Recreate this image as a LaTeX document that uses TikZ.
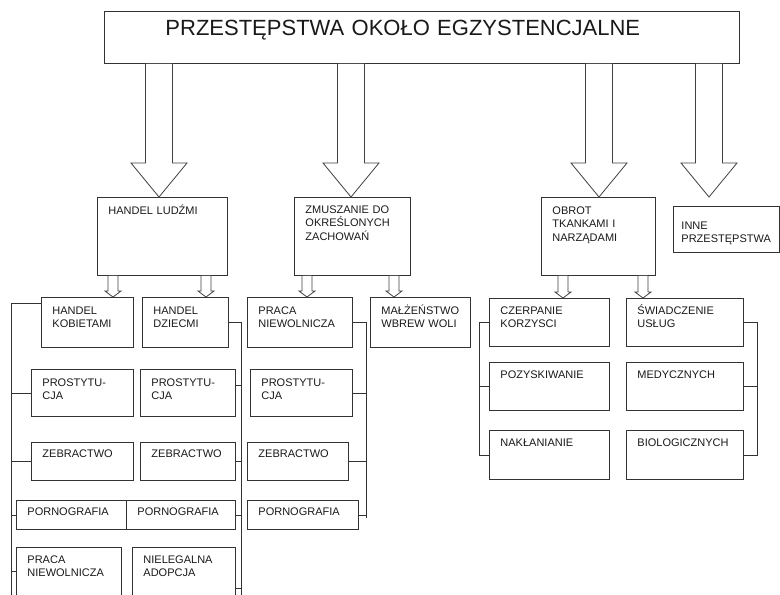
\documentclass[tikz,border=0pt]{standalone}
\usepackage{fontspec}
\setmainfont{Liberation Sans}
\usepackage{tikz}

\newcommand{\boxfont}{\fontsize{11}{13.5}\selectfont\hyphenpenalty=10000 }
% hollow block arrow: from node, tip, x, half shaft, half head, head length
\newcommand{\hollowarrow}[6]{%
  \draw[arrowline] ([xshift=-#4]#3,0 |- #1.south)
    -- ([xshift=-#4,yshift=#6]#3,0 |- #2)
    -- ([xshift=-#5,yshift=#6]#3,0 |- #2)
    -- (#3,0 |- #2)
    -- ([xshift=#5,yshift=#6]#3,0 |- #2)
    -- ([xshift=#4,yshift=#6]#3,0 |- #2)
    -- ([xshift=#4]#3,0 |- #1.south);}

\begin{document}
\begin{tikzpicture}[
        x=1pt, y=-1pt, line width=0.9pt,
        rail/.style={draw=black!80},
        box/.style={draw=black!80, anchor=north west, align=left,
          inner xsep=11pt, inner ysep=0pt, text height=17pt, font=\boxfont, text=black!90},
        arrowline/.style={draw=black!75, line width=0.8pt, fill=white}
      ]
      \useasboundingbox (0,0) rectangle (780,595);
      \clip (0,0) rectangle (780,595);

      % Root node
      \node[box, inner xsep=61pt, text width=513pt, text height=24pt, text depth=28pt,
        font=\fontsize{22}{26}\selectfont] (root) at (104,11)
        {PRZESTĘPSTWA OKOŁO EGZYSTENCJALNE};

      % Level 1
      \node[box, text width=108pt, text depth=61pt] (hl) at (97,197) {HANDEL LUDŹMI};
      \node[box, text width=94pt, text height=16pt, text depth=62pt] (zm) at (294,197)
        {ZMUSZANIE DO\\OKREŚLONYCH\\ZACHOWAŃ};
      \node[box, text width=92pt, text depth=61pt] (ob) at (541,197)
        {OBROT\\TKANKAMI I\\NARZĄDAMI};
      \node[box, inner xsep=8pt, text width=90pt, text height=23pt, text depth=23pt] (inne) at (673,206)
        {INNE\\PRZESTĘPSTWA};
      \coordinate (inneTip) at ([yshift=9pt]inne.north);

      \hollowarrow{root}{hl.north}{159}{13.5pt}{28pt}{34pt}
      \hollowarrow{root}{zm.north}{351}{13.5pt}{28pt}{34pt}
      \hollowarrow{root}{ob.north}{599}{13.5pt}{28pt}{34pt}
      \hollowarrow{root}{inneTip}{709}{13.5pt}{28pt}{34pt}

      % Level 2
      \node[box, text width=70pt, text depth=33pt] (kob) at (41,297) {HANDEL\\KOBIETAMI};
      \node[box, text width=64pt, text depth=33pt] (dzi) at (142,297) {HANDEL\\DZIECMI};
      \node[box, text width=83pt, text depth=33pt] (pn) at (247,297) {PRACA\\NIEWOLNICZA};
      \node[box, text width=78pt, text depth=33pt] (mal) at (370,297) {MAŁŻEŃSTWO\\WBREW WOLI};
      \node[box, text width=98pt, text height=16pt, text depth=32pt] (cz) at (489,298) {CZERPANIE\\KORZYSCI};
      \node[box, text width=95pt, text height=16pt, text depth=32pt] (sw) at (626,298) {ŚWIADCZENIE\\USŁUG};

      \hollowarrow{hl}{kob.north}{113}{5pt}{8pt}{6pt}
      \hollowarrow{hl}{dzi.north}{206}{5pt}{8pt}{6pt}
      \hollowarrow{zm}{pn.north}{307}{5pt}{8pt}{6pt}
      \hollowarrow{zm}{mal.north}{394}{5pt}{8pt}{6pt}
      \hollowarrow{ob}{cz.north}{563}{5pt}{8pt}{6pt}
      \hollowarrow{ob}{sw.north}{643}{5pt}{8pt}{6pt}

      % Level 3 - handel ludzmi
      \node[box, text width=80pt, text depth=30pt] (p1) at (31,369) {PROSTYTU-\\CJA};
      \node[box, text width=73pt, text depth=30pt] (p2) at (140,369) {PROSTYTU-\\CJA};
      \node[box, text width=80pt, text height=15pt, text depth=23pt] (z1) at (31,442) {ZEBRACTWO};
      \node[box, text width=73pt, text height=15pt, text depth=23pt] (z2) at (140,442) {ZEBRACTWO};
      \node[box, text width=88pt, text height=15pt, text depth=14pt] (po1) at (16,500) {PORNOGRAFIA};
      \node[box, text width=87pt, text height=15pt, text depth=14pt] (po2) at (126,500) {PORNOGRAFIA};
      \node[box, text width=83pt, text height=16pt, text depth=44pt] (pr) at (16,547) {PRACA\\NIEWOLNICZA};
      \node[box, text width=81pt, text height=16pt, text depth=44pt] (ad) at (132,547) {NIELEGALNA\\ADOPCJA};

      % Level 3 - zmuszanie
      \node[box, text width=80pt, text depth=30pt] (p3) at (250,369) {PROSTYTU-\\CJA};
      \node[box, text width=79pt, text height=15pt, text depth=23pt] (z3) at (247,442) {ZEBRACTWO};
      \node[box, text width=89pt, text height=15pt, text depth=14pt] (po3) at (247,500) {PORNOGRAFIA};

      % Level 3 - obrot
      \node[box, text width=98pt, text height=16pt, text depth=32pt] (poz) at (489,362) {POZYSKIWANIE};
      \node[box, text width=98pt, text height=16pt, text depth=33pt] (nak) at (489,430) {NAKŁANIANIE};
      \node[box, text width=95pt, text height=16pt, text depth=32pt] (med) at (626,362) {MEDYCZNYCH};
      \node[box, text width=95pt, text height=16pt, text depth=33pt] (bio) at (626,430) {BIOLOGICZNYCH};

      % brackets
      \coordinate (railA) at (11,620);
      \coordinate (railB) at (241,620);
      \coordinate (railC) at (366,0);
      \coordinate (railD) at (479,0);
      \coordinate (railE) at (757,0);

      \draw[rail] ([yshift=-6pt]kob.north west) -| (railA);
      \foreach \n in {p1,z1,po1} \draw[rail] (\n.west) -- (\n.west -| railA);
      \draw[rail] ([yshift=-24pt]pr.north west) -- ([yshift=-24pt]pr.north west -| railA);

      \draw[rail] (dzi.east) -| (railB);
      \draw[rail] ([yshift=-16pt]p2.north east) -- ([yshift=-16pt]p2.north east -| railB);
      \foreach \n in {z2,po2} \draw[rail] (\n.east) -- (\n.east -| railB);
      \draw[rail] ([yshift=-41pt]ad.north east) -- ([yshift=-41pt]ad.north east -| railB);

      \draw[rail] (pn.east) -| ([yshift=-3pt]railC |- po3.east);
      \foreach \n in {p3,z3,po3} \draw[rail] (\n.east) -- (\n.east -| railC);

      \draw[rail] (cz.west) -| (railD |- nak.west) -- (nak.west);
      \draw[rail] (poz.west) -- (poz.west -| railD);
      \draw[rail] (sw.east) -| (railE |- bio.east) -- (bio.east);
      \draw[rail] (med.east) -- (med.east -| railE);

    \end{tikzpicture}
\end{document}
